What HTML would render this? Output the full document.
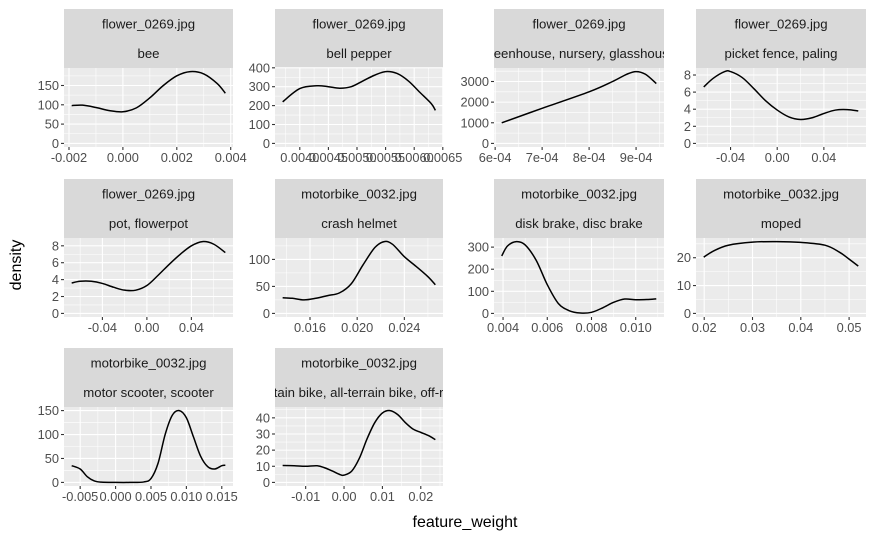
<!DOCTYPE html>
<html><head><meta charset="utf-8"><style>
html,body{margin:0;padding:0;background:#fff;}
svg{display:block;font-family:"Liberation Sans",Arial,sans-serif;}
</style></head><body>
<svg id="chart" width="875" height="540" xmlns="http://www.w3.org/2000/svg">
<text x="465" y="527" font-size="16" text-anchor="middle" fill="#000">feature_weight</text>
<text transform="translate(21,265) rotate(-90)" font-size="16" text-anchor="middle" fill="#000">density</text>
</svg>
<script>
// ---- data ----
const beeX=[-0.0019,-0.0015,-0.001,-0.0005,0,0.0005,0.001,0.0015,0.002,0.0025,0.003,0.0035,0.0038];
const beeY=[98,99,93,85,82,92,118,150,175,186,180,155,130];
const pepperX=[0.0037,0.0040,0.0043,0.0045,0.0047,0.0049,0.0051,0.0053,0.0055,0.0057,0.0059,0.0061,0.0063,0.00637];
const pepperY=[220,290,305,300,292,300,330,360,380,370,330,270,210,175];
const greenX=[6.14e-4,7e-4,8e-4,8.5e-4,8.8e-4,9e-4,9.2e-4,9.43e-4];
const greenY=[1000,1700,2500,3000,3350,3480,3350,2900];
const picketX=[-0.063,-0.055,-0.045,-0.04,-0.03,-0.02,-0.01,0,0.01,0.02,0.03,0.04,0.05,0.06,0.0695];
const picketY=[6.6,7.6,8.4,8.4,7.7,6.4,5.0,3.9,3.1,2.8,3.0,3.5,3.9,3.95,3.8];
const potX=[-0.0676,-0.06,-0.05,-0.04,-0.03,-0.02,-0.01,0,0.01,0.02,0.03,0.04,0.05,0.06,0.0705];
const potY=[3.6,3.8,3.8,3.55,3.1,2.75,2.75,3.3,4.5,5.8,7.0,8.0,8.5,8.2,7.2];
const helmetX=[0.01368,0.0145,0.0155,0.0165,0.0175,0.0185,0.0195,0.0205,0.0215,0.0223,0.023,0.024,0.025,0.026,0.02663];
const helmetY=[29,28,25,28,33,38,55,90,122,133,128,105,87,68,53];
const brakeX=[0.00394,0.0042,0.0046,0.005,0.0055,0.006,0.0065,0.007,0.0075,0.008,0.0085,0.009,0.0095,0.010,0.0105,0.01093];
const brakeY=[260,305,325,310,240,130,45,12,2,5,25,50,65,62,63,66];
const mopedX=[0.0199,0.022,0.025,0.03,0.035,0.04,0.045,0.048,0.05,0.0519];
const mopedY=[20.2,22.5,24.5,25.6,25.8,25.5,24.5,22,19.5,17];
const scooterX=[-0.0062,-0.005,-0.004,-0.003,-0.002,0,0.002,0.004,0.005,0.006,0.007,0.008,0.009,0.010,0.011,0.012,0.013,0.014,0.015,0.0155];
const scooterY=[35,28,12,3,0.5,0,0,1,8,40,100,140,150,135,95,55,33,28,35,36];
const mtbX=[-0.016,-0.013,-0.01,-0.007,-0.005,-0.003,-0.001,0,0.002,0.004,0.006,0.008,0.01,0.012,0.014,0.016,0.018,0.02,0.022,0.0238];
const mtbY=[10.5,10.3,10,10.3,9,7,4.8,4.5,7,15,27,37,43,44.5,42,37,33,31,29,26.5];

const stripTop=["flower_0269.jpg","flower_0269.jpg","flower_0269.jpg","flower_0269.jpg","flower_0269.jpg","motorbike_0032.jpg","motorbike_0032.jpg","motorbike_0032.jpg","motorbike_0032.jpg","motorbike_0032.jpg"];
const stripBottom=["bee","bell pepper","greenhouse, nursery, glasshouse","picket fence, paling","pot, flowerpot","crash helmet","disk brake, disc brake","moped","motor scooter, scooter","mountain bike, all-terrain bike, off-roader"];
const xTicks=[[-0.002,0,0.002,0.004],[0.004,0.0045,0.005,0.0055,0.006,0.0065],[6e-4,7e-4,8e-4,9e-4],[-0.04,0,0.04],[-0.04,0,0.04],[0.016,0.020,0.024],[0.004,0.006,0.008,0.010],[0.02,0.03,0.04,0.05],[-0.005,0,0.005,0.010,0.015],[-0.01,0,0.01,0.02]];
const xTickLabels=[["-0.002","0.000","0.002","0.004"],["0.0040","0.0045","0.0050","0.0055","0.0060","0.0065"],["6e-04","7e-04","8e-04","9e-04"],["-0.04","0.00","0.04"],["-0.04","0.00","0.04"],["0.016","0.020","0.024"],["0.004","0.006","0.008","0.010"],["0.02","0.03","0.04","0.05"],["-0.005","0.000","0.005","0.010","0.015"],["-0.01","0.00","0.01","0.02"]];
const yTicks=[[0,50,100,150],[0,100,200,300,400],[0,1000,2000,3000],[0,2,4,6,8],[0,2,4,6,8],[0,50,100],[0,100,200,300],[0,10,20],[0,50,100,150],[0,10,20,30,40]];
const seriesX=[beeX,pepperX,greenX,picketX,potX,helmetX,brakeX,mopedX,scooterX,mtbX];
const seriesY=[beeY,pepperY,greenY,picketY,potY,helmetY,brakeY,mopedY,scooterY,mtbY];

// ---- layout ----
const colL=[64,275,494,696], colR=[233,443,664,866], rowT=[9,179,348];
const NS="http://www.w3.org/2000/svg";
const svg=document.getElementById('chart');
function mk(tag,attrs,parent){const e=document.createElementNS(NS,tag);for(const k in attrs)e.setAttribute(k,attrs[k]);(parent||svg).appendChild(e);return e;}
function ext(a,b){const d=b-a;return [a-0.05*d,b+0.05*d];}
function minors(t){const s=t.length>1?t[1]-t[0]:1;const all=[t[0]-s,...t,t[t.length-1]+s];const m=[];for(let i=0;i<all.length-1;i++)m.push((all[i]+all[i+1])/2);return m;}
function fmt(v){return (+v.toPrecision(10)).toString();}

for(let p=0;p<10;p++){
  const c=p%4,r=Math.floor(p/4);
  const L=colL[c],R=colR[c],T=rowT[r]+59,B=rowT[r]+138,ST=rowT[r];
  const xs=seriesX[p],ys=seriesY[p];
  const [x0,x1]=ext(Math.min(...xs),Math.max(...xs));
  const [y0,y1]=ext(0,Math.max(...ys));
  const sx=v=>L+(v-x0)/(x1-x0)*(R-L);
  const sy=v=>B-(v-y0)/(y1-y0)*(B-T);
  const g=mk('g',{});
  
  
  const clipId='clip'+p;
  const cp=mk('clipPath',{id:clipId},g);mk('rect',{x:L,y:ST,width:R-L,height:59},cp);
  const s1=mk('rect',{x:L,y:ST,width:R-L,height:29.5,fill:'#d9d9d9'},g);
  
  
  const s2=mk('rect',{x:L,y:ST+29.5,width:R-L,height:29.5,fill:'#d9d9d9'},g);
  
  
  const t1=mk('text',{x:(L+R)/2,y:ST+19.5,'font-size':'13.2','text-anchor':'middle',fill:'#1a1a1a','clip-path':'url(#'+clipId+')'},g);
  t1.textContent=stripTop[p];
  
  
  const t2=mk('text',{x:(L+R)/2,y:ST+49,'font-size':'13.2','text-anchor':'middle',fill:'#1a1a1a','clip-path':'url(#'+clipId+')'},g);
  t2.textContent=stripBottom[p];
  
  
  const bg=mk('rect',{x:L,y:T,width:R-L,height:B-T,fill:'#ebebeb'},g);
  
  
  minors(xTicks[p]).forEach(v=>{if(v>x0&&v<x1){const x=sx(v);mk('line',{x1:x,x2:x,y1:T,y2:B,stroke:'#fff','stroke-width':0.55},g);}});
  minors(yTicks[p]).forEach(v=>{if(v>y0&&v<y1){const y=sy(v);mk('line',{x1:L,x2:R,y1:y,y2:y,stroke:'#fff','stroke-width':0.55},g);}});
  xTicks[p].forEach((v,i)=>{const x=sx(v);
    mk('line',{x1:x,x2:x,y1:T,y2:B,stroke:'#fff','stroke-width':1.1},g);
    mk('line',{x1:x,x2:x,y1:B,y2:B+3,stroke:'#333','stroke-width':1.1},g);
    const tl=mk('text',{x:x,y:B+15,'font-size':'12.8','text-anchor':'middle',fill:'#4d4d4d'},g);
    tl.textContent=xTickLabels[p][i];
    
    
  });
  yTicks[p].forEach(v=>{const y=sy(v);
    mk('line',{x1:L,x2:R,y1:y,y2:y,stroke:'#fff','stroke-width':1.1},g);
    mk('line',{x1:L-3,x2:L,y1:y,y2:y,stroke:'#333','stroke-width':1.1},g);
    const tl=mk('text',{x:L-5,y:y+4.5,'font-size':'12.8','text-anchor':'end',fill:'#4d4d4d'},g);
    tl.textContent=fmt(v);
    
    
  });
  const P=xs.map((v,i)=>[sx(v),sy(ys[i])]);
  let d='M'+P[0][0]+','+P[0][1];
  for(let i=0;i<P.length-1;i++){
    const p0=P[Math.max(0,i-1)],p1=P[i],p2=P[i+1],p3=P[Math.min(P.length-1,i+2)];
    const c1=[p1[0]+(p2[0]-p0[0])/6,p1[1]+(p2[1]-p0[1])/6];
    const c2=[p2[0]-(p3[0]-p1[0])/6,p2[1]-(p3[1]-p1[1])/6];
    d+=' C'+c1[0]+','+c1[1]+' '+c2[0]+','+c2[1]+' '+p2[0]+','+p2[1];
  }
  const path=mk('path',{d:d,fill:'none',stroke:'#000','stroke-width':1.5},g);
  
  
}
</script>
</body></html>
